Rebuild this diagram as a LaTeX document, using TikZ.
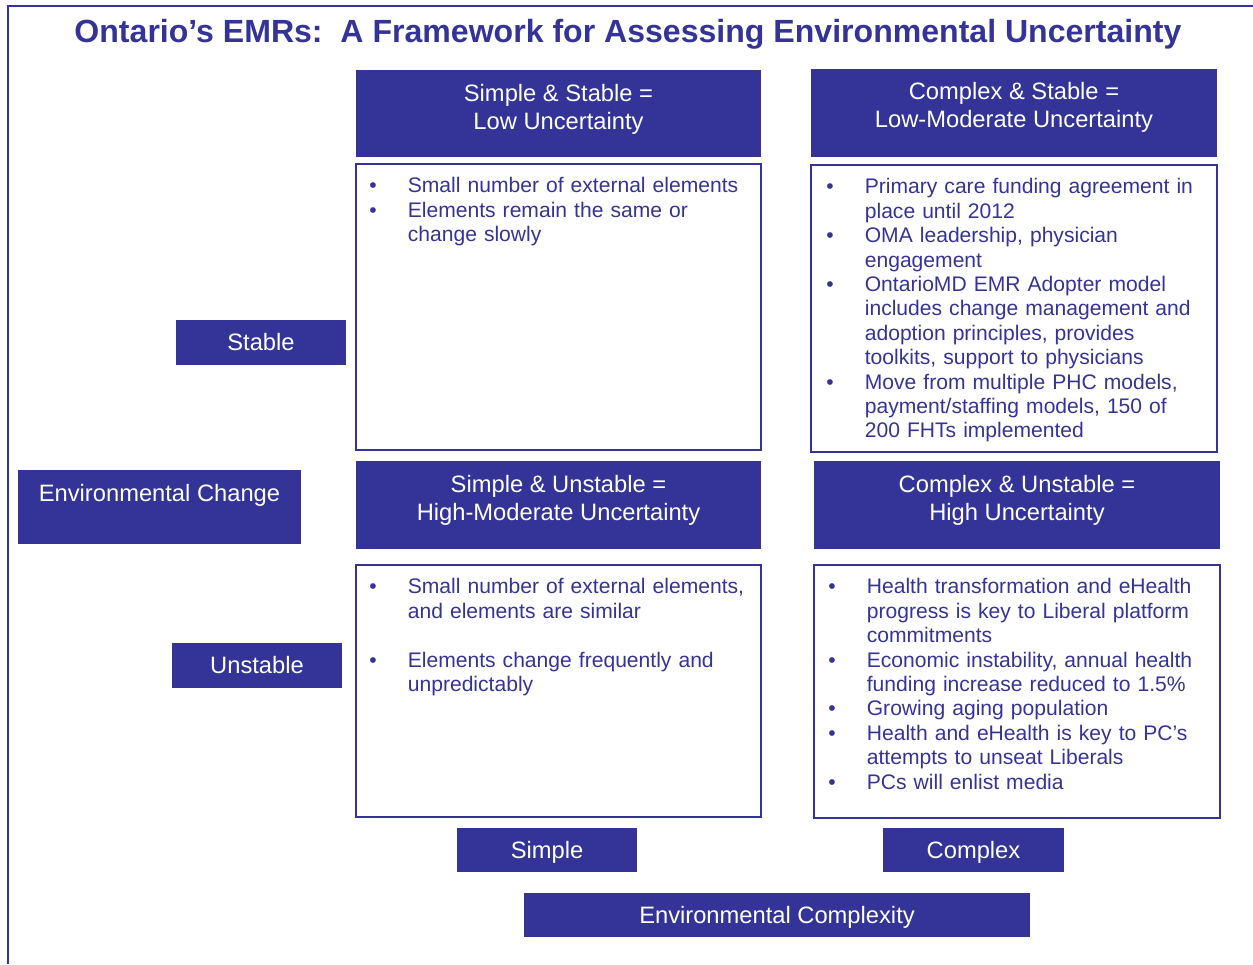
\documentclass[tikz,border=0pt]{standalone}
\usepackage{fontspec}
\setmainfont{Liberation Sans}
\usepackage{xcolor}
\usetikzlibrary{positioning}

\definecolor{emrblue}{RGB}{52,52,152}

% one bullet item: small bullet, then the lines hang under the text
\newcommand{\bul}[1]{\par\noindent\hangindent=0.69cm\hangafter=1\makebox[0.69cm][l]{\hspace*{-0.08cm}\textbullet}#1}

\begin{document}
\begin{tikzpicture}[x=0.02cm, y=-0.02cm,
title/.style={text=emrblue, font=\fontsize{18.25}{22}\selectfont\bfseries, inner sep=0pt},
hdbox/.style={fill=emrblue, minimum width=8.1cm, minimum height=1.75cm, inner sep=0pt},
hdtext/.style={text=white, align=center, font=\fontsize{13.5}{15.8}\selectfont, inner sep=0pt},
cellbox/.style={draw=emrblue, line width=1.3pt, minimum width=8.1cm, inner sep=0pt},
bullets/.style={text=emrblue, text width=7.6cm, align=left, anchor=north west, inner sep=0pt, font=\fontsize{12}{13.9}\selectfont},
tagbox/.style={fill=emrblue, text=white, inner sep=0pt, minimum height=0.9cm, text height=0.92em, text depth=0pt, font=\fontsize{13.5}{16}\selectfont},
tagtext/.style={text=white, inner sep=0pt, text height=0.92em, text depth=0pt, font=\fontsize{13.5}{16}\selectfont}
]
\useasboundingbox (0,0) rectangle (1253,964);

% page frame
\draw[emrblue, line width=1.1pt] (8,964) -- (8,6) -- (1253,6);

\node[title] (title) at (628,34) {Ontario’s EMRs:\ \ A Framework for Assessing Environmental Uncertainty};

% quadrant headers
\node[hdbox] (hdSS) at (558.5,113.5) {};
\node[hdtext] (hdSS-t) at (558.5,109) {Simple \& Stable =\\Low Uncertainty};
\node[hdbox, minimum width=8.12cm] (hdCS) at (1014,113) {};
\node[hdtext] (hdCS-t) at (1014,107.5) {Complex \& Stable =\\Low-Moderate Uncertainty};
\node[hdbox] (hdSU) at (558.5,505) {};
\node[hdtext] (hdSU-t) at (558.5,500) {Simple \& Unstable =\\High-Moderate Uncertainty};
\node[hdbox, minimum width=8.12cm] (hdCU) at (1017,505) {};
\node[hdtext] (hdCU-t) at (1017,500) {Complex \& Unstable =\\High Uncertainty};

% quadrant contents
\node[cellbox, minimum height=5.72cm] (bxSS) at (558.5,307) {};
\node[bullets] (bxSS-t) at (373,168) {%
\bul{Small number of external elements}
\bul{Elements remain the same or\newline change slowly}\par};

\node[cellbox, minimum width=8.12cm, minimum height=5.74cm] (bxCS) at (1014,308.5) {};
\node[bullets] (bxCS-t) at (830,169) {%
\bul{Primary care funding agreement in\newline place until 2012}
\bul{OMA leadership, physician\newline engagement}
\bul{OntarioMD EMR Adopter model\newline includes change management and\newline adoption principles, provides\newline toolkits, support to physicians}
\bul{Move from multiple PHC models,\newline payment/staffing models, 150 of\newline 200 FHTs implemented}\par};

\node[cellbox, minimum height=5.04cm] (bxSU) at (558.5,691) {};
\node[bullets] (bxSU-t) at (373,569) {%
\bul{Small number of external elements,\newline and elements are similar}
\par\vspace{13.9pt}
\bul{Elements change frequently and\newline unpredictably}\par};

\node[cellbox, minimum width=8.12cm, minimum height=5.06cm] (bxCU) at (1017,691.5) {};
\node[bullets] (bxCU-t) at (832,569) {%
\bul{Health transformation and eHealth\newline progress is key to Liberal platform\newline commitments}
\bul{Economic instability, annual health\newline funding increase reduced to 1.5\%}
\bul{Growing aging population}
\bul{Health and eHealth is key to PC’s\newline attempts to unseat Liberals}
\bul{PCs will enlist media}\par};

% axis tags
\node[tagbox, minimum width=3.4cm] (stable) at (261,342.5) {Stable};
\node[tagbox, minimum width=3.4cm] (unstable) at (257,665.5) {Unstable};
\node[fill=emrblue, minimum width=5.66cm, minimum height=1.48cm] (envchange) at (159.5,507) {};
\node[tagtext] (envchange-t) at (159.5,493) {Environmental Change};
\node[tagbox, minimum width=3.6cm, minimum height=0.88cm] (simple) at (547,850) {Simple};
\node[tagbox, minimum width=3.62cm, minimum height=0.88cm] (complex) at (973.5,850) {Complex};
\node[tagbox, minimum width=10.12cm, minimum height=0.88cm] (envcomplex) at (777,915) {Environmental Complexity};
\end{tikzpicture}
\end{document}
